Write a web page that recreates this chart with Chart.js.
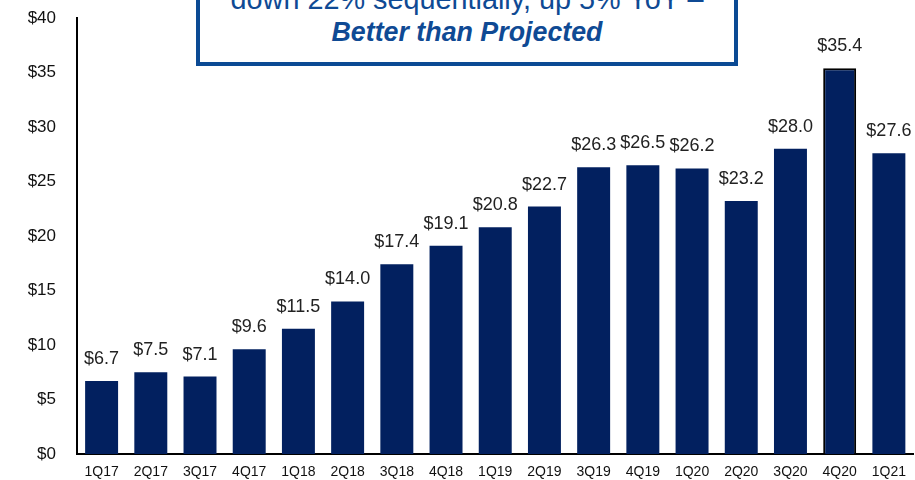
<!DOCTYPE html>
<html>
<head>
<meta charset="utf-8">
<script src="https://cdn.jsdelivr.net/npm/chart.js@4/dist/chart.umd.min.js"></script>
<style>
  html, body { margin: 0; padding: 0; background: #fff; overflow: hidden; }
  #wrap { position: relative; width: 916px; height: 480px; }
  #callout {
    position: absolute; left: 196px; top: -14px; width: 534px; height: 72px;
    border: 4px solid #0b4a94; background: #fff;
    font-family: "Liberation Sans", Arial, sans-serif; color: #0f4a94;
    text-align: center; font-size: 28.8px; line-height: 28px;
  }
  #callout .l1 { margin-top: -5px; }
  #callout .l2 { margin-top: 5px; font-weight: bold; font-style: italic; font-size: 26.8px; }
</style>
</head>
<body>
<div id="wrap">
  <canvas id="chart" width="916" height="480"></canvas>
  <div id="callout">
    <div class="l1">down 22% sequentially, up 5% YoY –</div>
    <div class="l2">Better than Projected</div>
  </div>
</div>
<script>
const quarters = ['1Q17', '2Q17', '3Q17', '4Q17', '1Q18', '2Q18', '3Q18', '4Q18', '1Q19',
  '2Q19', '3Q19', '4Q19', '1Q20', '2Q20', '3Q20', '4Q20', '1Q21'];
const revenue = [6.7, 7.5, 7.1, 9.6, 11.5, 14.0, 17.4, 19.1, 20.8, 22.7, 26.3, 26.5, 26.2, 23.2, 28.0, 35.4, 27.6];
const highlightIndex = 15; // 4Q20 has an outline

const navy = '#02205f';

// value labels above the bars
const barLabels = {
  id: 'barLabels',
  afterDatasetsDraw(chart) {
    const ctx = chart.ctx;
    const meta = chart.getDatasetMeta(0);
    ctx.save();
    ctx.font = '18px "Liberation Sans", Arial, sans-serif';
    ctx.fillStyle = '#222';
    ctx.textAlign = 'center';
    ctx.textBaseline = 'middle';
    meta.data.forEach((bar, i) => {
      ctx.fillText('$' + revenue[i].toFixed(1), bar.x, bar.y - 22);
    });
    ctx.restore();
  }
};

new Chart(document.getElementById('chart'), {
  type: 'bar',
  plugins: [barLabels],
  data: {
    labels: quarters,
    datasets: [{
      data: revenue,
      backgroundColor: navy,
      borderColor: revenue.map((_, i) => i === highlightIndex ? '#000' : navy),
      borderWidth: revenue.map((_, i) => i === highlightIndex ? 2 : 0),
      categoryPercentage: 1,
      barPercentage: 0.67
    }]
  },
  options: {
    responsive: false,
    animation: false,
    layout: { padding: { top: 18, right: 0, left: 0, bottom: 0 } },
    plugins: { legend: { display: false }, tooltip: { enabled: false } },
    scales: {
      x: {
        grid: { display: false, drawTicks: false },
        border: { color: '#000', width: 2 },
        ticks: {
          color: '#111', padding: 10,
          font: { family: '"Liberation Sans", Arial, sans-serif', size: 14 },
          maxRotation: 0, autoSkip: false
        },
        afterFit: (s) => { s.height = 26; }
      },
      y: {
        min: 0, max: 40,
        grid: { display: false, drawTicks: false },
        border: { color: '#000', width: 2 },
        ticks: {
          stepSize: 5, color: '#111', padding: 21,
          font: { family: '"Liberation Sans", Arial, sans-serif', size: 17 },
          callback: (v) => '$' + v
        },
        afterFit: (s) => { s.width = 77; s.paddingTop = 0; s.paddingBottom = 0; }
      }
    }
  }
});
</script>
</body>
</html>
